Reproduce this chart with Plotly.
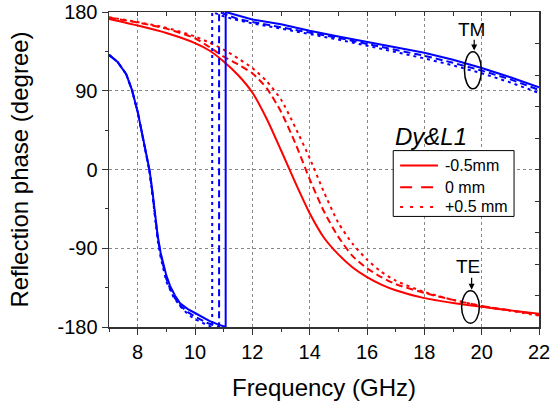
import plotly.graph_objects as go

# ---------------- data ----------------
# TE reflection phase, red curves
red_freq = [7, 8, 9, 10, 10.5, 11, 11.5, 12, 12.5, 13, 13.5, 14, 14.5, 15, 15.5, 16,
            16.5, 17, 18, 19, 20, 21, 22]
red_m05 = [172, 164.5, 156, 144.5, 136, 123.5, 108, 88, 58, 22, -15, -50, -78, -97, -112, -123,
           -131.5, -138, -147, -152.5, -157, -161, -165]
red_0 = [173.5, 168, 161, 150, 140, 129, 120, 110, 93, 66, 30, -11, -48, -77, -99, -113,
         -123, -131, -141, -149, -156, -161, -166]
red_p05 = [174, 168.5, 162, 152, 145, 137, 127, 116, 101, 80, 48, 13, -26, -61, -85, -103,
           -117, -127, -140, -149, -156, -161.5, -167]

# TE (low band) + TM (high band) reflection phase, blue curves (wrap at +/-180)
blue_m05_freq = [7, 7.3, 7.6, 7.8, 8, 8.15, 8.3, 8.41, 8.5, 8.6, 8.7, 8.8, 8.9, 9.0, 9.13, 9.3,
                 9.48, 9.75, 10, 10.5, 10.8, 11.07, 11.07, 11.5, 12, 13, 14, 15, 16, 17, 18,
                 19, 20, 21, 22]
blue_m05 = [131, 123, 109, 91, 66, 42, 17, 0, -21, -47, -76, -95, -109, -121, -133, -144,
            -153, -159.5, -164, -173, -177, -180, 180, 176, 171.5, 166, 158.5, 152, 146, 140,
            133.5, 125.5, 116, 105.5, 94]

blue_0_freq = [7, 7.3, 7.6, 7.8, 8, 8.15, 8.3, 8.41, 8.5, 8.6, 8.7, 8.8, 8.9, 9.0, 9.13, 9.3,
               9.5, 9.75, 10, 10.4, 10.84, 10.84, 11.5, 12, 13, 14, 15, 16, 17, 18, 19, 20,
               21, 22]
blue_0 = [131, 123, 109, 91, 66, 42, 16, -1, -23, -49, -78, -97, -112, -125, -136, -147,
          -156, -163, -168, -175, -180, 180, 172, 168.5, 162.5, 156.5, 150.5, 143.5, 137,
          130, 122, 113, 103, 91]

blue_p05_freq = [7, 7.3, 7.6, 7.8, 8, 8.15, 8.3, 8.41, 8.5, 8.6, 8.7, 8.8, 8.9, 9.0, 9.24,
                 9.5, 9.77, 10, 10.41, 10.6, 10.6, 11, 11.5, 12, 13, 14, 15, 16, 17, 18, 19,
                 20, 21, 22]
blue_p05 = [131, 123, 109, 91, 66, 41, 15, -2, -25, -52, -81, -100, -115, -128, -145,
            -157, -166, -171, -177.6, -180, 180, 175, 170.5, 167, 161, 155, 148.5, 141.5,
            134.5, 127, 119, 110, 99.5, 87.5]

legend_names = ["-0.5mm", "0 mm", "+0.5 mm"]
legend_title = "Dy&L1"
x_ticks = [8, 10, 12, 14, 16, 18, 20, 22]
y_ticks = [-180, -90, 0, 90, 180]
y_ticktext = ["-180", "-90", "0", "90", "180"]

# annotation anchors (freq, phase)
tm_label = (19.65, 160)
tm_arrow = (19.74, 150, 136)        # x, tail y, head y
tm_ellipse = (19.40, 19.99, 92.3, 134.6)
te_label = (19.53, -111)
te_arrow = (19.65, -122, -137.5)
te_ellipse = (19.30, 19.92, -175.7, -138.7)

FONT = "Liberation Sans, Arial, sans-serif"
RED = "#ff0000"
BLUE = "#0000ff"
dashes = ["solid", "7px,4px", "3px,4px"]
legend_dashes = ["solid", "12px,9px", "3px,7px"]

fig = go.Figure()

for name, ys, d in zip(legend_names, [red_m05, red_0, red_p05], dashes):
    fig.add_trace(go.Scatter(x=red_freq, y=ys, mode="lines", name=name, showlegend=False,
                             line=dict(color=RED, width=2, dash=d, shape="spline", smoothing=0.6)))

for xs, ys, d in zip([blue_m05_freq, blue_0_freq, blue_p05_freq],
                     [blue_m05, blue_0, blue_p05], dashes):
    fig.add_trace(go.Scatter(x=xs, y=ys, mode="lines", showlegend=False,
                             line=dict(color=BLUE, width=2, dash=d)))

# helper trace for right/top tick axes
fig.add_trace(go.Scatter(x=[], y=[], xaxis="x2", yaxis="y2", showlegend=False))

# ellipses
for (x0, x1, y0, y1) in [tm_ellipse, te_ellipse]:
    fig.add_shape(type="circle", xref="x", yref="y", x0=x0, x1=x1, y0=y0, y1=y1,
                  line=dict(color="black", width=1.5))

ann = []
for txt, (lx, ly) in [("TM", tm_label), ("TE", te_label)]:
    ann.append(dict(x=lx, y=ly, xref="x", yref="y", text=txt, showarrow=False,
                    font=dict(family=FONT, size=19, color="black")))
for (ax_, ty, hy) in [tm_arrow, te_arrow]:
    ann.append(dict(x=ax_, y=hy, xref="x", yref="y", ax=ax_, ay=ty, axref="x", ayref="y",
                    text="", showarrow=True, arrowhead=2, arrowsize=1, arrowwidth=1.2,
                    arrowcolor="black"))

# legend box (paper coordinates)
LG_X0, LG_X1, LG_Y0, LG_Y1 = 0.661, 0.942, 0.351, 0.560
fig.add_shape(type="rect", xref="paper", yref="paper", x0=LG_X0, x1=LG_X1, y0=LG_Y0, y1=LG_Y1,
              line=dict(color="black", width=1), fillcolor="white", layer="above")
legend_rows = [0.513, 0.444, 0.381]
for name, d, yy in zip(legend_names, legend_dashes, legend_rows):
    fig.add_shape(type="line", xref="paper", yref="paper", x0=0.677, x1=0.765, y0=yy, y1=yy,
                  line=dict(color=RED, width=2, dash=d), layer="above")
    ann.append(dict(x=0.776, y=yy, xref="paper", yref="paper", text=name, showarrow=False,
                    xanchor="left", yanchor="middle",
                    font=dict(family=FONT, size=16, color="black")))
ann.append(dict(x=0.749, y=0.604, xref="paper", yref="paper", text="<i>" + legend_title + "</i>",
                showarrow=False, xanchor="center", yanchor="middle",
                font=dict(family=FONT, size=24, color="black")))

fig.update_layout(
    width=553, height=404,
    margin=dict(l=109, r=14, t=12, b=77, autoexpand=False),
    paper_bgcolor="white", plot_bgcolor="white",
    font=dict(family=FONT, color="black"),
    annotations=ann,
    showlegend=False,
    hovermode=False,
    xaxis=dict(range=[7, 22], tickvals=x_ticks, ticks="outside", ticklen=6,
               tickwidth=1, tickcolor="#333", showline=True, linecolor="#333", linewidth=1.5,
               mirror=True, showgrid=True, gridcolor="#888", griddash="dot", gridwidth=1,
               tickfont=dict(size=20), zeroline=False, automargin=False,
               ticklabeloverflow="allow",
               minor=dict(dtick=1, tick0=7, ticks="outside", ticklen=3, tickcolor="#333",
                          showgrid=False),
               title=dict(text="Frequency (GHz)", font=dict(size=24), standoff=17)),
    yaxis=dict(range=[-180, 180], tickvals=y_ticks, ticktext=y_ticktext, ticks="outside",
               ticklen=6, tickwidth=1, tickcolor="#333", showline=True, linecolor="#333",
               linewidth=1.5, mirror=True, showgrid=True, gridcolor="#888", griddash="dot",
               gridwidth=1, tickfont=dict(size=20), zeroline=False, automargin=False,
               ticklabeloverflow="allow",
               minor=dict(dtick=45, tick0=-180, ticks="outside", ticklen=3, tickcolor="#333",
                          showgrid=False),
               title=dict(text="Reflection phase (degree)", font=dict(size=24), standoff=22)),
    xaxis2=dict(range=[7, 22], overlaying="x", side="top", anchor="y2", showgrid=False,
                showticklabels=False, ticks="inside", ticklen=4, tickcolor="#333",
                tick0=7, dtick=1, zeroline=False, automargin=False),
    yaxis2=dict(range=[-180, 180], overlaying="y", side="right", anchor="x2", showgrid=False,
                showticklabels=False, ticks="inside", ticklen=4, tickcolor="#333",
                tick0=-180, dtick=36, zeroline=False, automargin=False),
)

fig.write_html("out.html", config={"displayModeBar": False, "staticPlot": True},
               post_script="document.body.style.margin='0';document.body.style.overflow='hidden';")
